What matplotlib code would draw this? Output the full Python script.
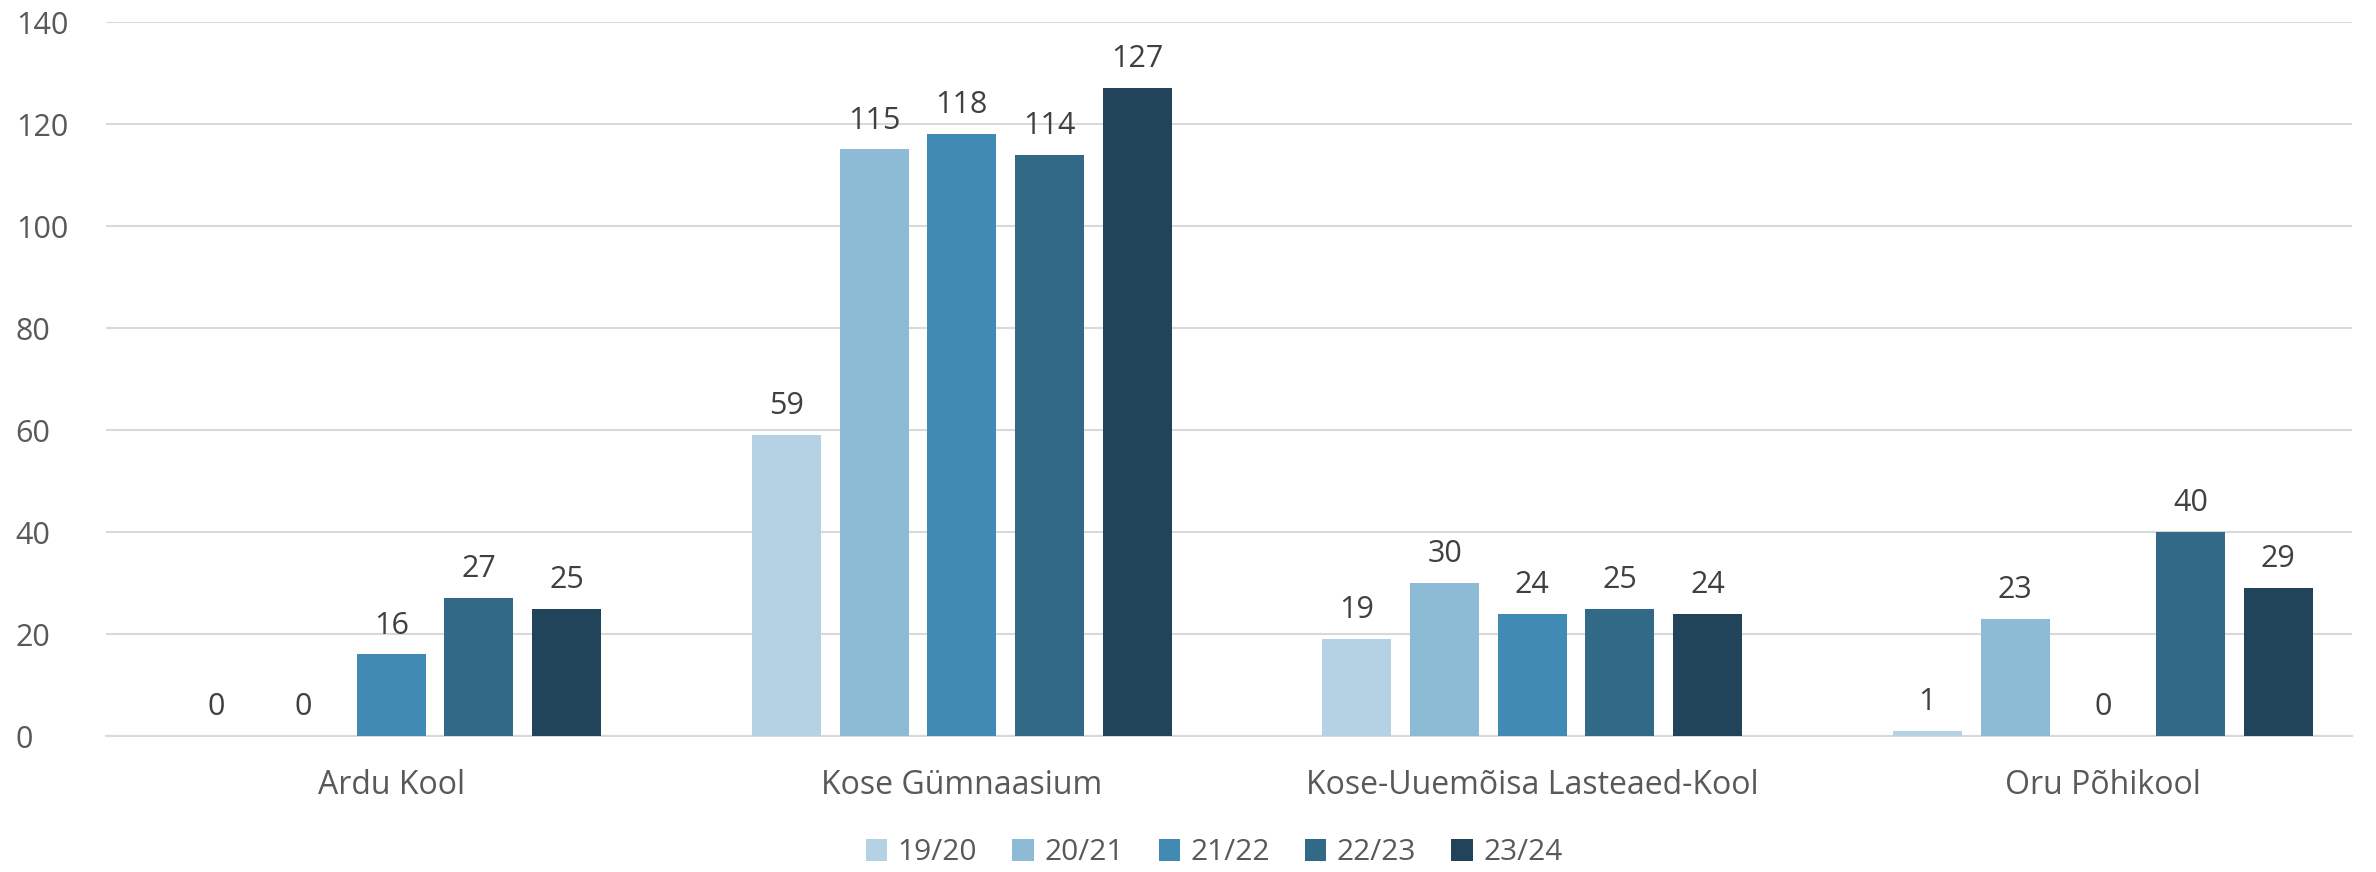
import numpy as np
import matplotlib.pyplot as plt

# Data
schools = ['Ardu Kool', 'Kose Gümnaasium', 'Kose-Uuemõisa Lasteaed-Kool', 'Oru Põhikool']
years = ['19/20', '20/21', '21/22', '22/23', '23/24']
v1920 = [0, 59, 19, 1]
v2021 = [0, 115, 30, 23]
v2122 = [16, 118, 24, 0]
v2223 = [27, 114, 25, 40]
v2324 = [25, 127, 24, 29]
series = [v1920, v2021, v2122, v2223, v2324]
colors = ['#B4D2E3', '#8DBAD5', '#418AB4', '#316986', '#22445A']

plt.rcParams['font.family'] = ['Open Sans', 'DejaVu Sans']

fig = plt.figure(figsize=(23.76, 8.72), dpi=100)
ax = fig.add_axes([106 / 2376, 1 - 736 / 872, 2246 / 2376, 714 / 872])

x = np.arange(len(schools))
step = 0.1537
width = 0.121
for i, (vals, c, lab) in enumerate(zip(series, colors, years)):
    pos = x + (i - 2) * step
    ax.bar(pos, vals, width=width, color=c, label=lab, zorder=3)
    for p, v in zip(pos, vals):
        ax.annotate(str(v), (p, v), xytext=(0, 10), textcoords='offset points',
                    ha='center', va='bottom', fontsize=22, color='#404040')

ax.set_xlim(-0.5, -0.5 + 2246 / 570.5)
ax.set_ylim(0, 140)
ax.set_yticks(range(0, 141, 20))
ax.set_xticks(x)
ax.set_xticklabels(schools)
ax.grid(axis='y', color='#D9D9D9', linewidth=1.5, zorder=0)
for s in ['top', 'right', 'left']:
    ax.spines[s].set_visible(False)
ax.spines['bottom'].set_color('#D9D9D9')
ax.spines['bottom'].set_linewidth(1.5)
ax.tick_params(axis='both', length=0, colors='#595959')
ax.tick_params(axis='x', labelsize=23, pad=24)
ax.tick_params(axis='y', labelsize=22, pad=65)
for t in ax.get_yticklabels():
    t.set_horizontalalignment('left')

leg = fig.legend(*ax.get_legend_handles_labels(), loc='center',
                 bbox_to_anchor=(0.511, 0.022), ncol=5, frameon=False,
                 fontsize=21.5, handlelength=0.72, handleheight=0.72,
                 columnspacing=1.17, handletextpad=0.35)
for t in leg.get_texts():
    t.set_color('#595959')

fig.savefig('out.png', dpi=100)
